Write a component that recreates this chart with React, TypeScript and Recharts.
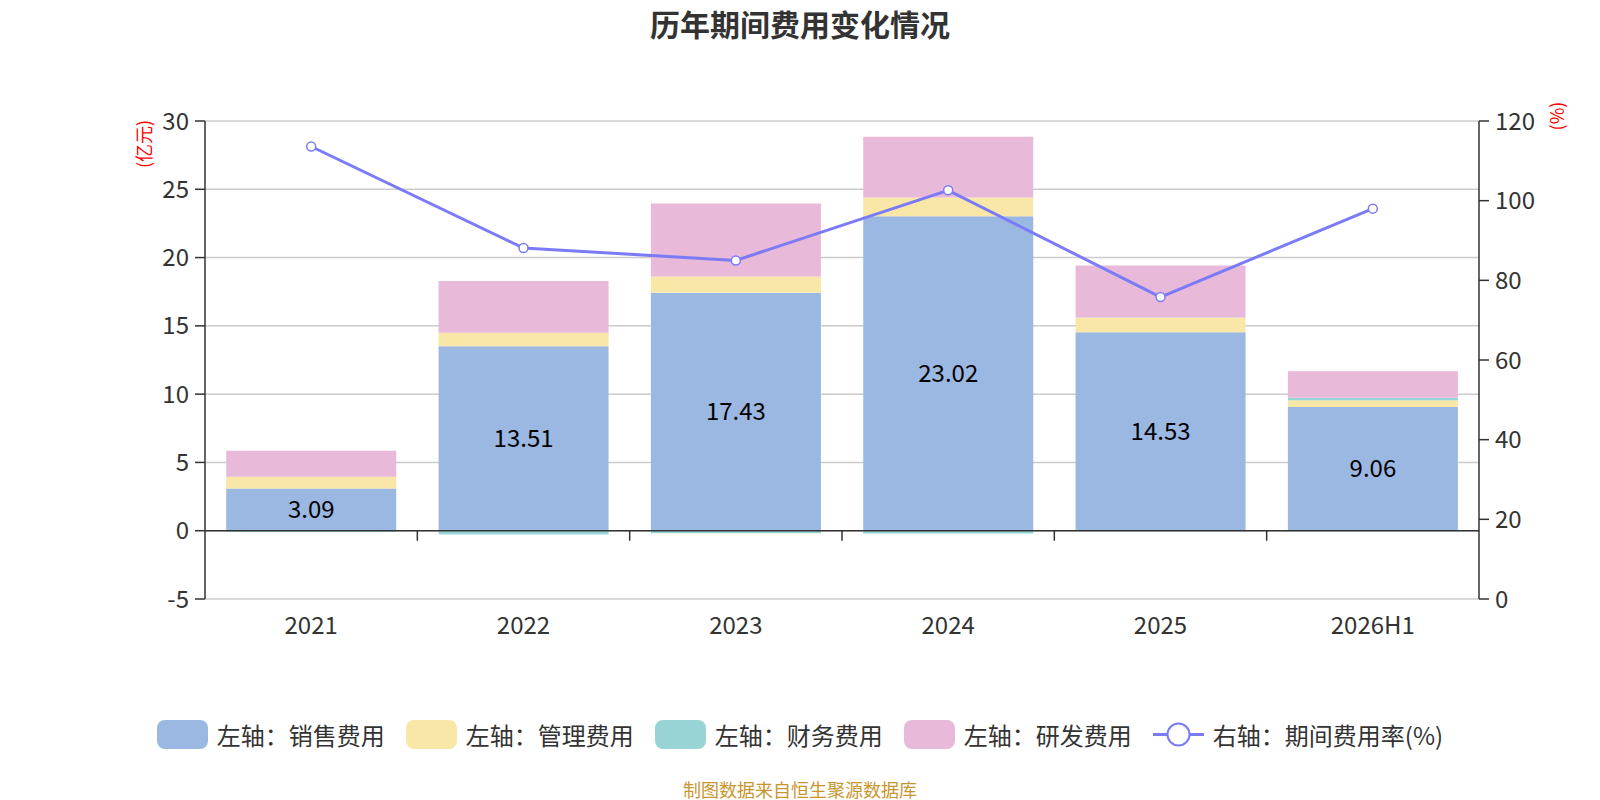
import React from 'react';
import {
  Bar,
  CartesianGrid,
  ComposedChart,
  LabelList,
  Line,
  ReferenceLine,
  XAxis,
  YAxis,
} from 'recharts';

const years = ['2021', '2022', '2023', '2024', '2025', '2026H1'];
const sales = [3.09, 13.51, 17.43, 23.02, 14.53, 9.06];
const admin = [0.86, 0.98, 1.18, 1.37, 1.07, 0.5];
const finance = [-0.08, -0.27, -0.18, -0.2, 0.02, 0.17];
const rnd = [1.9, 3.8, 5.35, 4.46, 3.8, 1.95];
const expenseRate = [113.6, 88.1, 85.0, 102.6, 75.8, 98.0];

const leftTicks = [-5, 0, 5, 10, 15, 20, 25, 30];
const rightTicks = [0, 20, 40, 60, 80, 100, 120];

const data = years.map((year, i) => ({
  year,
  sales: sales[i],
  admin: admin[i],
  finance: finance[i],
  rnd: rnd[i],
  rate: expenseRate[i],
}));

const W = 1600;
const H = 800;
const PLOT_LEFT = 205;
const PLOT_RIGHT = 1479;
const PLOT_TOP = 121;
const PLOT_BOTTOM = 599;
const BAND = (PLOT_RIGHT - PLOT_LEFT) / years.length;
const ZERO_Y = PLOT_TOP + ((PLOT_BOTTOM - PLOT_TOP) * 30) / 35;

const FONT = '"Noto Sans CJK SC", "Noto Sans", sans-serif';

const legendItems = [
  { name: '左轴：销售费用', color: '#9bb8e2', type: 'bar' },
  { name: '左轴：管理费用', color: '#f9e7a8', type: 'bar' },
  { name: '左轴：财务费用', color: '#98d4d5', type: 'bar' },
  { name: '左轴：研发费用', color: '#e8b9d9', type: 'bar' },
  { name: '右轴：期间费用率(%)', color: '#7b7bf7', type: 'line' },
];

const XTick = (props: any) => {
  const { x, y, payload, index } = props;
  return (
    <g>
      <text x={x} y={y + 27} textAnchor="middle" fill="#333" fontSize={24} fontFamily={FONT}>
        {payload.value}
      </text>
      {index > 0 && (
        <line x1={x - BAND / 2} x2={x - BAND / 2} y1={ZERO_Y} y2={ZERO_Y + 10} stroke="#333" strokeWidth={1.5} />
      )}
    </g>
  );
};

const axisName = (text: string, cx: number, cy: number) => (
  <div
    style={{
      position: 'absolute',
      left: cx - 40,
      top: cy - 12,
      width: 80,
      height: 24,
      lineHeight: '24px',
      textAlign: 'center',
      transform: 'rotate(-90deg)',
      color: 'red',
      fontSize: 18,
    }}
  >
    {text}
  </div>
);

export default function App() {
  return (
    <div style={{ position: 'absolute', left: 0, top: 0, width: W, height: H, background: '#fff', fontFamily: FONT }}>
      <div
        style={{
          position: 'absolute',
          top: 1,
          width: W,
          textAlign: 'center',
          fontSize: 30,
          fontWeight: 'bold',
          color: '#333',
        }}
      >
        历年期间费用变化情况
      </div>
      {axisName('(亿元)', 143, 144)}
      {axisName('(%)', 1556, 116)}
      <ComposedChart
        width={W}
        height={H}
        data={data}
        stackOffset="sign"
        barCategoryGap="10%"
        margin={{ top: PLOT_TOP, right: 0, left: 0, bottom: H - PLOT_BOTTOM - 60 }}
      >
        <CartesianGrid yAxisId="left" vertical={false} stroke="#cccccc" strokeWidth={1.5} />
        <XAxis dataKey="year" axisLine={false} tickLine={false} tick={<XTick />} height={60} interval={0} />
        <YAxis
          yAxisId="left"
          width={PLOT_LEFT}
          domain={[-5, 30]}
          ticks={leftTicks}
          interval={0}
          stroke="#333"
          strokeWidth={1.5}
          tickSize={10}
          tickMargin={6}
          tick={{ fill: '#333', fontSize: 24, fontFamily: FONT }}
        />
        <YAxis
          yAxisId="right"
          orientation="right"
          width={W - PLOT_RIGHT}
          domain={[0, 120]}
          ticks={rightTicks}
          interval={0}
          stroke="#333"
          strokeWidth={1.5}
          tickSize={10}
          tickMargin={6}
          tick={{ fill: '#333', fontSize: 24, fontFamily: FONT }}
        />
        <Bar yAxisId="left" dataKey="sales" stackId="a" fill="#9bb8e2" isAnimationActive={false}>
          <LabelList dataKey="sales" position="center" fill="#000" fontSize={24} fontFamily={FONT} />
        </Bar>
        <Bar yAxisId="left" dataKey="admin" stackId="a" fill="#f9e7a8" isAnimationActive={false} />
        <Bar yAxisId="left" dataKey="finance" stackId="a" fill="#98d4d5" isAnimationActive={false} />
        <Bar yAxisId="left" dataKey="rnd" stackId="a" fill="#e8b9d9" isAnimationActive={false} />
        <ReferenceLine yAxisId="left" y={0} stroke="#333" strokeWidth={1.5} />
        <Line
          yAxisId="right"
          dataKey="rate"
          stroke="#7b7bf7"
          strokeWidth={3}
          dot={{ r: 4.5, fill: '#fff', stroke: '#7b7bf7', strokeWidth: 1.5 }}
          isAnimationActive={false}
        />
      </ComposedChart>
      <div
        style={{
          position: 'absolute',
          top: 720,
          width: W,
          display: 'flex',
          justifyContent: 'center',
          gap: 21,
          fontSize: 24,
          color: '#333',
        }}
      >
        {legendItems.map((item) => (
          <div key={item.name} style={{ display: 'flex', alignItems: 'center', gap: 9, height: 29 }}>
            {item.type === 'bar' ? (
              <div style={{ width: 51, height: 29, borderRadius: 8, background: item.color }} />
            ) : (
              <svg width={51} height={29}>
                <line x1={0} x2={51} y1={14.5} y2={14.5} stroke={item.color} strokeWidth={3} />
                <circle cx={25.5} cy={14.5} r={11} fill="#fff" stroke={item.color} strokeWidth={2} />
              </svg>
            )}
            <span>{item.name}</span>
          </div>
        ))}
      </div>
      <div
        style={{
          position: 'absolute',
          top: 776,
          width: W,
          textAlign: 'center',
          fontSize: 18,
          lineHeight: '26px',
          color: '#c8962e',
        }}
      >
        制图数据来自恒生聚源数据库
      </div>
    </div>
  );
}
